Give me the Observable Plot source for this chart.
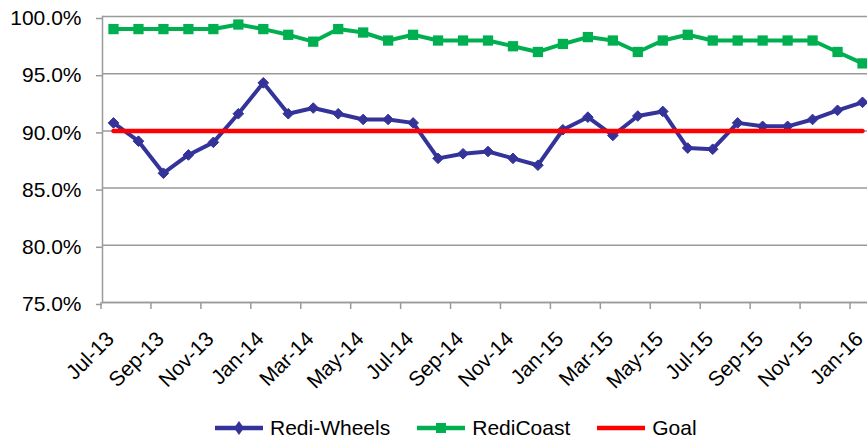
<!DOCTYPE html>
<html><head><meta charset="utf-8">
<script src="https://cdn.jsdelivr.net/npm/d3@7"></script>
<script src="https://cdn.jsdelivr.net/npm/@observablehq/plot@0.6"></script>
<style>
body{margin:0;background:#fff;font-family:"Liberation Sans",Arial,sans-serif;}
#chart{width:867px;height:441px;overflow:hidden;position:relative}
#chart svg{display:block}
.legend{display:flex;align-items:center;height:26px;padding-top:10px;padding-left:215px;font-size:21px;color:#000;white-space:nowrap}
.legend .item{display:flex;align-items:center;margin-right:27px}
.legend svg{margin-right:7px}
</style></head><body><div id="chart"></div>
<script>
const months = ["Jul-13","Aug-13","Sep-13","Oct-13","Nov-13","Dec-13","Jan-14","Feb-14","Mar-14","Apr-14","May-14","Jun-14","Jul-14","Aug-14","Sep-14","Oct-14","Nov-14","Dec-14","Jan-15","Feb-15","Mar-15","Apr-15","May-15","Jun-15","Jul-15","Aug-15","Sep-15","Oct-15","Nov-15","Dec-15","Jan-16"];
const rediWheels = [90.7,89.1,86.3,87.9,89.0,91.5,94.2,91.5,92.0,91.5,91.0,91.0,90.7,87.6,88.0,88.2,87.6,87.0,90.1,91.2,89.6,91.3,91.7,88.5,88.4,90.7,90.4,90.4,91.0,91.8,92.5];
const rediCoast = [98.9,98.9,98.9,98.9,98.9,99.3,98.9,98.4,97.8,98.9,98.6,97.9,98.4,97.9,97.9,97.9,97.4,96.9,97.6,98.2,97.9,96.9,97.9,98.4,97.9,97.9,97.9,97.9,97.9,96.9,95.9];
const goal = months.map(() => 90.0);
const seriesNames = ["Redi-Wheels","RediCoast","Goal"];
const seriesColors = ["#333399","#00B050","#FF0000"];
const yTicks = [75,80,85,90,95,100];
const xLabels = months.filter((d,i) => i % 2 === 0);

const rows = (name, vals) => vals.map((v,i) => ({series:name, month:months[i], value:v}));
const wheels = rows(seriesNames[0], rediWheels);
const coast = rows(seriesNames[1], rediCoast);
const goalRows = rows(seriesNames[2], goal);

const W = 867, H = 405;
const x0 = 113, x1 = 862;
const step = (x1 - x0) / (months.length - 1);
const grid = "#9a9a9a";

const plot = Plot.plot({
  width: W, height: H,
  marginLeft: 102, marginRight: 0, marginTop: 16, marginBottom: 103,
  style: {fontFamily: '"Liberation Sans", Arial, sans-serif', fontSize: "21px", color: "#000", background: "#fff", overflow: "hidden"},
  x: {type: "point", domain: months, range: [x0, x1], padding: 0, round: false, label: null},
  y: {domain: [75, 100], label: null},
  marks: [
    Plot.gridY(yTicks, {stroke: grid, strokeOpacity: 1, strokeWidth: 1.5}),
    Plot.frame({anchor: "left", stroke: grid, strokeWidth: 1.5}),
    Plot.axisY(yTicks, {tickSize: 6, tickPadding: 15, stroke: grid, strokeWidth: 1.5, tickFormat: d => d.toFixed(1) + "%", fontSize: 21, dy: 2, label: null}),
    Plot.axisX(xLabels, {tickSize: 7, tickFormat: () => "", dx: -step/2, stroke: grid, strokeWidth: 1.5, label: null}),
    Plot.text(xLabels, {x: d => d, text: d => d, frameAnchor: "bottom", rotate: -45, textAnchor: "end", lineAnchor: "middle", dy: 33, dx: -3, fontSize: 21, fill: "#000"}),
    Plot.ruleY([75], {stroke: grid, strokeWidth: 1.5}),
    Plot.line(wheels, {x: "month", y: "value", stroke: seriesColors[0], strokeWidth: 4}),
    Plot.dot(wheels, {x: "month", y: "value", symbol: "diamond2", r: 4.8, fill: seriesColors[0], stroke: seriesColors[0], strokeWidth: 1}),
    Plot.line(coast, {x: "month", y: "value", stroke: seriesColors[1], strokeWidth: 4}),
    Plot.dot(coast, {x: "month", y: "value", symbol: "square", r: 5.8, fill: seriesColors[1], stroke: "none"}),
    Plot.line(goalRows, {x: "month", y: "value", stroke: seriesColors[2], strokeWidth: 4.5})
  ]
});

const chart = document.getElementById("chart");
chart.appendChild(plot);

const legend = document.createElement("div");
legend.className = "legend";
const markerSvg = (i) => {
  const c = seriesColors[i];
  let m = "";
  if (i === 0) m = `<path d="M24,6 L29,13 L24,20 L19,13 Z" fill="${c}"/>`;
  if (i === 1) m = `<rect x="19" y="8" width="10" height="10" fill="${c}"/>`;
  return `<svg width="48" height="26" viewBox="0 0 48 26"><line x1="0" x2="48" y1="13" y2="13" stroke="${c}" stroke-width="4.5"/>${m}</svg>`;
};
seriesNames.forEach((name, i) => {
  const it = document.createElement("div");
  it.className = "item";
  it.innerHTML = markerSvg(i) + `<span>${name}</span>`;
  legend.appendChild(it);
});
chart.appendChild(legend);
</script>
</body></html>
